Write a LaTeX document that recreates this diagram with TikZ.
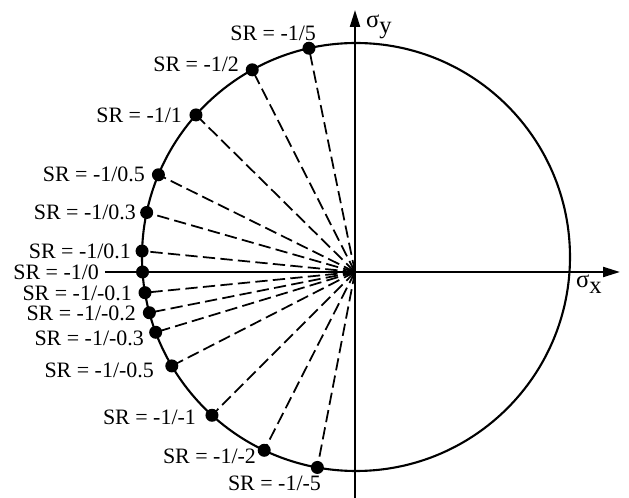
\documentclass[tikz,border=0pt]{standalone}
\usepackage{fontspec}
\setmainfont{Liberation Serif}
\usetikzlibrary{arrows.meta}

\begin{document}
\begin{tikzpicture}[>={Triangle[length=0.34cm, width=0.2cm]}, line width=1.2pt,
    srlab/.style={anchor=east, inner sep=0pt, font=\fontsize{12.5}{15}\selectfont},
    axlab/.style={anchor=base west, inner sep=0pt, font=\fontsize{14}{16}\selectfont},
    ray/.style={line width=1pt, dash pattern=on 7pt off 3pt}]

    \useasboundingbox (-7.1,-4.52) rectangle (5.48,5.44);

    % 定义屈服圆的半径(R)与圆心 C (略高于原点 O)
    \def\R{4.28}
    \def\dotr{0.13}
    \coordinate (O) at (0,0);
    \coordinate (C) at (0.02,0.30);

    % 坐标轴端点
    \coordinate (xs) at (-5.0,0);
    \coordinate (xe) at (5.30,0);
    \coordinate (ys) at (0,-4.52);
    \coordinate (ye) at (0,5.24);

    % 圆上各点 (按角度给出)
    \coordinate (P1) at ([shift={(C)}]102.7:\R);
    \coordinate (P2) at ([shift={(C)}]119.0:\R);
    \coordinate (P3) at ([shift={(C)}]138.4:\R);
    \coordinate (P4) at ([shift={(C)}]157.4:\R);
    \coordinate (P5) at ([shift={(C)}]168.0:\R);
    \coordinate (P6) at ([shift={(C)}]178.4:\R);
    \coordinate (P7) at ([shift={(C)}]184.02:\R);
    \coordinate (P8) at ([shift={(C)}]189.6:\R);
    \coordinate (P9) at ([shift={(C)}]195.1:\R);
    \coordinate (P10) at ([shift={(C)}]200.6:\R);
    \coordinate (P11) at ([shift={(C)}]210.6:\R);
    \coordinate (P12) at ([shift={(C)}]227.7:\R);
    \coordinate (P13) at ([shift={(C)}]244.6:\R);
    \coordinate (P14) at ([shift={(C)}]259.6:\R);

    % 1. 屈服圆
    \draw (C) circle (\R);

    % 2. 坐标轴 sigma_x, sigma_y
    \draw[->] (xs) -- (xe);
    \draw[->] (ys) -- (ye);
    \node[axlab] (sx) at (4.40,-0.32) {σ\raisebox{-0.45ex}{x}};
    \node[axlab] (sy) at (0.20,4.88) {σ\raisebox{-0.45ex}{y}};

    % 3. 由原点引出的虚线
    \draw[ray] (O) -- (P1);
    \draw[ray] (O) -- (P2);
    \draw[ray] (O) -- (P3);
    \draw[ray] (O) -- (P4);
    \draw[ray] (O) -- (P5);
    \draw[ray] (O) -- (P6);
    \draw[ray] (O) -- (P8);
    \draw[ray] (O) -- (P9);
    \draw[ray] (O) -- (P10);
    \draw[ray] (O) -- (P11);
    \draw[ray] (O) -- (P12);
    \draw[ray] (O) -- (P13);
    \draw[ray] (O) -- (P14);

    % 4. 圆上的实心点
    \fill (P1) circle (\dotr);
    \fill (P2) circle (\dotr);
    \fill (P3) circle (\dotr);
    \fill (P4) circle (\dotr);
    \fill (P5) circle (\dotr);
    \fill (P6) circle (\dotr);
    \fill (P7) circle (\dotr);
    \fill (P8) circle (\dotr);
    \fill (P9) circle (\dotr);
    \fill (P10) circle (\dotr);
    \fill (P11) circle (\dotr);
    \fill (P12) circle (\dotr);
    \fill (P13) circle (\dotr);
    \fill (P14) circle (\dotr);

    % 5. 应力比 SR 标注
    \node[srlab] (L1) at (-0.76,4.78) {SR = -1/5};
    \node[srlab] (L2) at (-2.30,4.16) {SR = -1/2};
    \node[srlab] (L3) at (-3.44,3.14) {SR = -1/1};
    \node[srlab] (L4) at (-4.18,1.96) {SR = -1/0.5};
    \node[srlab] (L5) at (-4.36,1.20) {SR = -1/0.3};
    \node[srlab] (L6) at (-4.46,0.42) {SR = -1/0.1};
    \node[srlab] (L7) at (-5.10,0) {SR = -1/0};
    \node[srlab] (L8) at (-4.44,-0.42) {SR = -1/-0.1};
    \node[srlab] (L9) at (-4.36,-0.82) {SR = -1/-0.2};
    \node[srlab] (L10) at (-4.20,-1.32) {SR = -1/-0.3};
    \node[srlab] (L11) at (-4.00,-1.96) {SR = -1/-0.5};
    \node[srlab] (L12) at (-3.16,-2.90) {SR = -1/-1};
    \node[srlab] (L13) at (-1.96,-3.68) {SR = -1/-2};
    \node[srlab] (L14) at (-0.66,-4.22) {SR = -1/-5};

\end{tikzpicture}
\end{document}
